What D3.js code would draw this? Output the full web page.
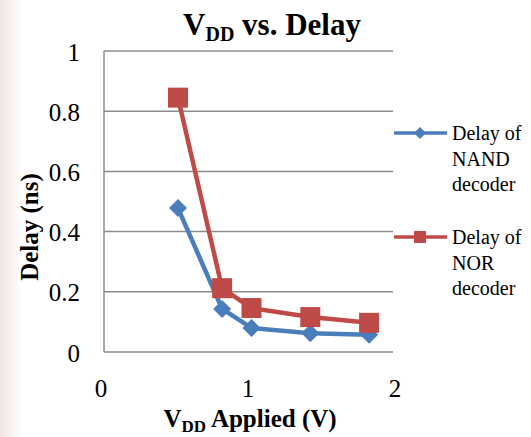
<!DOCTYPE html>
<html><head><meta charset="utf-8">
<script src="https://cdn.jsdelivr.net/npm/d3@7"></script>
<style>html,body{margin:0;padding:0;background:#fff}svg{display:block}
svg text{font-family:"Liberation Serif","Times New Roman",serif;fill:#000}</style>
</head><body>
<script>
const voltages = [0.5, 0.8, 1.0, 1.4, 1.8];
const nandDelay = [0.478, 0.143, 0.080, 0.062, 0.057];
const norDelay = [0.845, 0.212, 0.146, 0.116, 0.097];
const xTicks = [0, 1, 2];
const yTicks = [0, 0.2, 0.4, 0.6, 0.8, 1];
const seriesNames = [["Delay of", "NAND", "decoder"], ["Delay of", "NOR", "decoder"]];

const W = 531, H = 437;
const svg = d3.select("body").append("svg").attr("width", W).attr("height", H);
const defs = svg.append("defs");
const g0 = defs.append("linearGradient").attr("id", "edge").attr("x1", 0).attr("x2", 1);
g0.append("stop").attr("offset", 0).attr("stop-color", "#efe4e0");
g0.append("stop").attr("offset", 1).attr("stop-color", "#ffffff");
svg.append("rect").attr("x", 0).attr("y", 0).attr("width", 22).attr("height", H).attr("fill", "url(#edge)");

const x = d3.scaleLinear().domain([0, 2]).range([104.5, 398.5]);
const y = d3.scaleLinear().domain([0, 1]).range([352, 51]);

// gridlines
svg.append("g").selectAll("line").data(yTicks).join("line")
  .attr("x1", 104).attr("x2", 393).attr("y1", d => y(d)).attr("y2", d => y(d))
  .attr("stroke", "#8c8c8c").attr("stroke-width", 1.5);
svg.append("line").attr("x1", 104).attr("x2", 104).attr("y1", y(1)).attr("y2", y(0))
  .attr("stroke", "#8c8c8c").attr("stroke-width", 1.5);

// y tick labels
svg.append("g").selectAll("text").data(yTicks).join("text")
  .attr("x", 80).attr("y", d => y(d)).attr("dy", "0.38em").attr("text-anchor", "end")
  .attr("font-size", 25).text(d => d3.format("")(d));
// x tick labels
svg.append("g").selectAll("text").data(xTicks).join("text")
  .attr("x", d => x(d) - 3.5).attr("y", 397).attr("text-anchor", "middle")
  .attr("font-size", 25).text(d => d);

// title
const t = svg.append("text").attr("x", 272).attr("y", 35).attr("text-anchor", "middle")
  .attr("font-size", 31).attr("font-weight", "bold");
t.append("tspan").text("V");
t.append("tspan").attr("font-size", 20).attr("dy", 6).text("DD");
t.append("tspan").attr("dy", -6).text(" vs. Delay");

// x axis title
const xt = svg.append("text").attr("x", 250).attr("y", 427).attr("text-anchor", "middle")
  .attr("font-size", 25).attr("font-weight", "bold");
xt.append("tspan").text("V");
xt.append("tspan").attr("font-size", 17).attr("dy", 5).text("DD");
xt.append("tspan").attr("dy", -5).text(" Applied (V)");

// y axis title
svg.append("text").attr("transform", "translate(38,227) rotate(-90)").attr("text-anchor", "middle")
  .attr("font-size", 25).attr("font-weight", "bold").text("Delay (ns)");

const blue = "#4a7ebb", red = "#be4b48";
const line = d3.line().x(d => x(d[0])).y(d => y(d[1]));
const nand = voltages.map((v, i) => [v, nandDelay[i]]);
const nor = voltages.map((v, i) => [v, norDelay[i]]);

svg.append("path").datum(nand).attr("d", line).attr("fill", "none").attr("stroke", blue).attr("stroke-width", 4.5).attr("stroke-linejoin", "round");
svg.append("path").datum(nor).attr("d", line).attr("fill", "none").attr("stroke", red).attr("stroke-width", 4.5).attr("stroke-linejoin", "round");

const diamond = s => `M0,${-s}L${s},0L0,${s}L${-s},0Z`;
svg.append("g").selectAll("path").data(nand).join("path")
  .attr("transform", d => `translate(${x(d[0])},${y(d[1])})`).attr("d", diamond(9)).attr("fill", blue);
svg.append("g").selectAll("rect").data(nor).join("rect")
  .attr("x", d => x(d[0]) - 10).attr("y", d => y(d[1]) - 10).attr("width", 20).attr("height", 20).attr("fill", red);

// legend
const leg = [{c: blue, y: 133, m: "d"}, {c: red, y: 237, m: "s"}];
leg.forEach((l, i) => {
  svg.append("line").attr("x1", 394).attr("x2", 447).attr("y1", l.y).attr("y2", l.y).attr("stroke", l.c).attr("stroke-width", 3.5);
  if (l.m === "d") svg.append("path").attr("transform", `translate(420,${l.y})`).attr("d", diamond(6)).attr("fill", l.c);
  else svg.append("rect").attr("x", 414).attr("y", l.y - 6).attr("width", 12).attr("height", 12).attr("fill", l.c);
  svg.append("g").selectAll("text").data(seriesNames[i]).join("text")
    .attr("x", 452).attr("y", (d, j) => l.y + j * 25.5).attr("dy", "0.35em")
    .attr("font-size", 20).text(d => d);
});
</script>
</body></html>
